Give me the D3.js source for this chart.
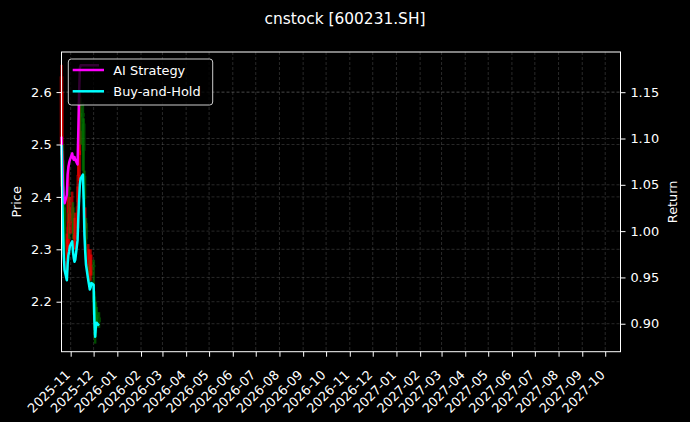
<!DOCTYPE html>
<html>
<head>
<meta charset="utf-8">
<script src="https://cdn.jsdelivr.net/npm/d3@7"></script>
<style>
  html, body { margin: 0; padding: 0; background: #000; }
  svg { display: block; font-family: "DejaVu Sans", sans-serif; }
</style>
</head>
<body>
<div id="chart"></div>
<script>
/* global d3 */
// trading days shown in the chart
var dates = ['2025-10-20', '2025-10-21', '2025-10-22', '2025-10-23', '2025-10-24',
  '2025-10-27', '2025-10-28', '2025-10-29', '2025-10-30', '2025-10-31',
  '2025-11-03', '2025-11-04', '2025-11-05', '2025-11-06', '2025-11-07',
  '2025-11-10', '2025-11-11', '2025-11-12', '2025-11-13', '2025-11-14',
  '2025-11-17', '2025-11-18', '2025-11-19', '2025-11-20', '2025-11-21',
  '2025-11-24', '2025-11-25', '2025-11-26', '2025-11-27', '2025-11-28',
  '2025-12-01', '2025-12-02', '2025-12-03', '2025-12-04', '2025-12-05',
  '2025-12-08'];

var openPrice = [2.500, 2.420, 2.470, 2.400, 2.340, 2.260, 2.290, 2.310, 2.370, 2.350,
  2.360, 2.380, 2.350, 2.320, 2.320, 2.340, 2.390, 2.440, 2.500, 2.570,
  2.560, 2.540, 2.440, 2.340, 2.350, 2.260, 2.250, 2.270, 2.250, 2.260,
  2.270, 2.210, 2.170, 2.175, 2.180, 2.170];
var closePrice = [2.630, 2.488, 2.404, 2.339, 2.305, 2.278, 2.319, 2.343, 2.353, 2.368,
  2.380, 2.353, 2.336, 2.327, 2.331, 2.382, 2.442, 2.488, 2.526, 2.543,
  2.553, 2.488, 2.396, 2.353, 2.319, 2.278, 2.266, 2.254, 2.259, 2.271,
  2.266, 2.175, 2.132, 2.161, 2.168, 2.161];
var highPrice = [2.652, 2.600, 2.500, 2.420, 2.380, 2.330, 2.400, 2.460, 2.420, 2.400,
  2.410, 2.390, 2.360, 2.360, 2.370, 2.420, 2.500, 2.600, 2.600, 2.590,
  2.580, 2.550, 2.450, 2.380, 2.360, 2.310, 2.300, 2.280, 2.300, 2.290,
  2.280, 2.220, 2.180, 2.200, 2.190, 2.180];
var lowPrice = [2.480, 2.350, 2.300, 2.300, 2.280, 2.250, 2.280, 2.300, 2.320, 2.330,
  2.330, 2.320, 2.300, 2.300, 2.300, 2.330, 2.380, 2.430, 2.480, 2.500,
  2.450, 2.400, 2.350, 2.300, 2.280, 2.250, 2.240, 2.230, 2.240, 2.250,
  2.200, 2.150, 2.120, 2.140, 2.150, 2.150];

var aiReturn = [1.102, 1.077, 1.050, 1.034, 1.030, 1.039, 1.061, 1.069, 1.074, 1.077,
  1.084, 1.079, 1.077, 1.080, 1.077, 1.072, 1.109, 1.147, 1.176, 1.179,
  1.179, 1.179, 1.179, 1.179, 1.179, 1.179, 1.179, 1.179, 1.179, 1.179,
  1.179, 1.179, 1.179, 1.179, 1.179, 1.179];
var holdReturn = [1.093, 1.034, 0.999, 0.972, 0.958, 0.947, 0.964, 0.974, 0.978, 0.984,
  0.989, 0.978, 0.971, 0.967, 0.969, 0.990, 1.015, 1.034, 1.050, 1.057,
  1.061, 1.034, 0.996, 0.978, 0.964, 0.947, 0.942, 0.937, 0.939, 0.944,
  0.942, 0.904, 0.886, 0.898, 0.901, 0.898];

var priceTicks = [2.2, 2.3, 2.4, 2.5, 2.6];
var returnTicks = [0.90, 0.95, 1.00, 1.05, 1.10, 1.15];
var seriesNames = ['AI Strategy', 'Buy-and-Hold'];
var seriesColors = ['#ff00ff', '#00ffff'];

var width = 690, height = 422;
var margin = { top: 52, right: 69.5, bottom: 70.3, left: 61.5 };
var w = width - margin.left - margin.right;
var h = height - margin.top - margin.bottom;
var fontSize = 12.9;

var parse = d3.timeParse('%Y-%m-%d');
var days = dates.map(parse);

var x = d3.scaleTime()
  .domain([parse('2025-10-20'), parse('2027-10-21')])
  .range([0, w]);
var yPrice = d3.scaleLinear().domain([2.1046, 2.6765]).range([h, 0]);
var yRet = d3.scaleLinear().domain([0.8698, 1.1934]).range([h, 0]);

var svg = d3.select('#chart')
  .append('svg')
  .attr('width', width)
  .attr('height', height);

svg.append('rect').attr('width', width).attr('height', height).attr('fill', '#000');

svg.append('text')
  .attr('x', width / 2)
  .attr('y', 24)
  .attr('text-anchor', 'middle')
  .attr('fill', '#fff')
  .attr('font-size', 15.4)
  .text('cnstock [600231.SH]');

var g = svg.append('g')
  .attr('transform', 'translate(' + margin.left + ',' + margin.top + ')');

// grid lines (x months, both y axes)
var monthTicks = x.ticks(d3.timeMonth.every(1));
var grid = g.append('g')
  .attr('stroke', '#808080')
  .attr('stroke-opacity', 0.45)
  .attr('stroke-width', 0.7)
  .attr('stroke-dasharray', '3,2');
grid.selectAll('line.gx').data(monthTicks).enter().append('line')
  .attr('x1', d => x(d)).attr('x2', d => x(d))
  .attr('y1', 0).attr('y2', h);
grid.selectAll('line.gp').data(priceTicks).enter().append('line')
  .attr('x1', 0).attr('x2', w)
  .attr('y1', d => yPrice(d)).attr('y2', d => yPrice(d));
grid.selectAll('line.gr').data(returnTicks).enter().append('line')
  .attr('x1', 0).attr('x2', w)
  .attr('y1', d => yRet(d)).attr('y2', d => yRet(d));

// candles, red up / green down
var bars = days.map((d, i) => ({
  date: d, open: openPrice[i], close: closePrice[i], high: highPrice[i], low: lowPrice[i]
}));
var candle = g.append('g').selectAll('g').data(bars).enter().append('g')
  .attr('fill', d => d.close >= d.open ? '#ff0000' : '#008000')
  .attr('stroke', d => d.close >= d.open ? '#ff0000' : '#008000')
  .attr('opacity', 0.6);
candle.append('line')
  .attr('x1', d => x(d.date)).attr('x2', d => x(d.date))
  .attr('y1', d => yPrice(d.high)).attr('y2', d => yPrice(d.low))
  .attr('stroke-width', 2.5);
candle.append('rect')
  .attr('x', d => x(d.date) - 1.8)
  .attr('width', 3.6)
  .attr('y', d => yPrice(Math.max(d.open, d.close)))
  .attr('height', d => Math.max(1, Math.abs(yPrice(d.open) - yPrice(d.close))))
  .attr('stroke', 'none');

// return lines
var line = d3.line()
  .x(d => x(d.date))
  .y(d => yRet(d.value));
[aiReturn, holdReturn].forEach(function(vals, k) {
  g.append('path')
    .datum(days.map((d, i) => ({ date: d, value: vals[i] })))
    .attr('fill', 'none')
    .attr('stroke', seriesColors[k])
    .attr('stroke-width', 2.5)
    .attr('stroke-linejoin', 'round')
    .attr('d', line);
});

// axes
function styleAxis(sel) {
  sel.select('.domain').remove();
  sel.selectAll('.tick line').attr('stroke', '#fff').attr('stroke-width', 1);
  sel.selectAll('.tick text')
    .attr('fill', '#fff')
    .attr('font-size', fontSize)
    .attr('font-family', '"DejaVu Sans", sans-serif');
}

var xAxis = g.append('g')
  .attr('transform', 'translate(0,' + h + ')')
  .call(d3.axisBottom(x).tickValues(monthTicks).tickFormat(d3.timeFormat('%Y-%m'))
    .tickSize(5).tickPadding(0))
  .call(styleAxis);
xAxis.selectAll('.tick text')
  .attr('text-anchor', 'end')
  .attr('dy', 0)
  .attr('y', 0)
  .attr('transform', 'translate(0,24) rotate(-45)');

g.append('g')
  .call(d3.axisLeft(yPrice).tickValues(priceTicks).tickFormat(d3.format('.1f'))
    .tickSize(5).tickPadding(4.9))
  .call(styleAxis);

g.append('g')
  .attr('transform', 'translate(' + w + ',0)')
  .call(d3.axisRight(yRet).tickValues(returnTicks).tickFormat(d3.format('.2f'))
    .tickSize(5).tickPadding(4.9))
  .call(styleAxis);

// frame
g.append('rect')
  .attr('width', w).attr('height', h)
  .attr('fill', 'none')
  .attr('stroke', '#fff')
  .attr('stroke-width', 1);

// axis labels
svg.append('text')
  .attr('transform', 'translate(21,' + (margin.top + h / 2) + ') rotate(-90)')
  .attr('text-anchor', 'middle')
  .attr('fill', '#fff')
  .attr('font-size', fontSize)
  .text('Price');
svg.append('text')
  .attr('transform', 'translate(677,' + (margin.top + h / 2) + ') rotate(-90)')
  .attr('text-anchor', 'middle')
  .attr('fill', '#fff')
  .attr('font-size', fontSize)
  .text('Return');

// legend
var legend = svg.append('g').attr('transform', 'translate(68.3,59)');
legend.append('rect')
  .attr('width', 144.4).attr('height', 46)
  .attr('rx', 3)
  .attr('fill', '#000').attr('fill-opacity', 0.8)
  .attr('stroke', '#cccccc').attr('stroke-width', 1);
seriesNames.forEach(function(name, k) {
  var yy = 11 + k * 21.3;
  legend.append('line')
    .attr('x1', 4.4).attr('x2', 35.7)
    .attr('y1', yy).attr('y2', yy)
    .attr('stroke', seriesColors[k]).attr('stroke-width', 2.5);
  legend.append('text')
    .attr('x', 45).attr('y', yy + 4.6)
    .attr('fill', '#fff')
    .attr('font-size', fontSize)
    .text(name);
});
</script>
</body>
</html>
